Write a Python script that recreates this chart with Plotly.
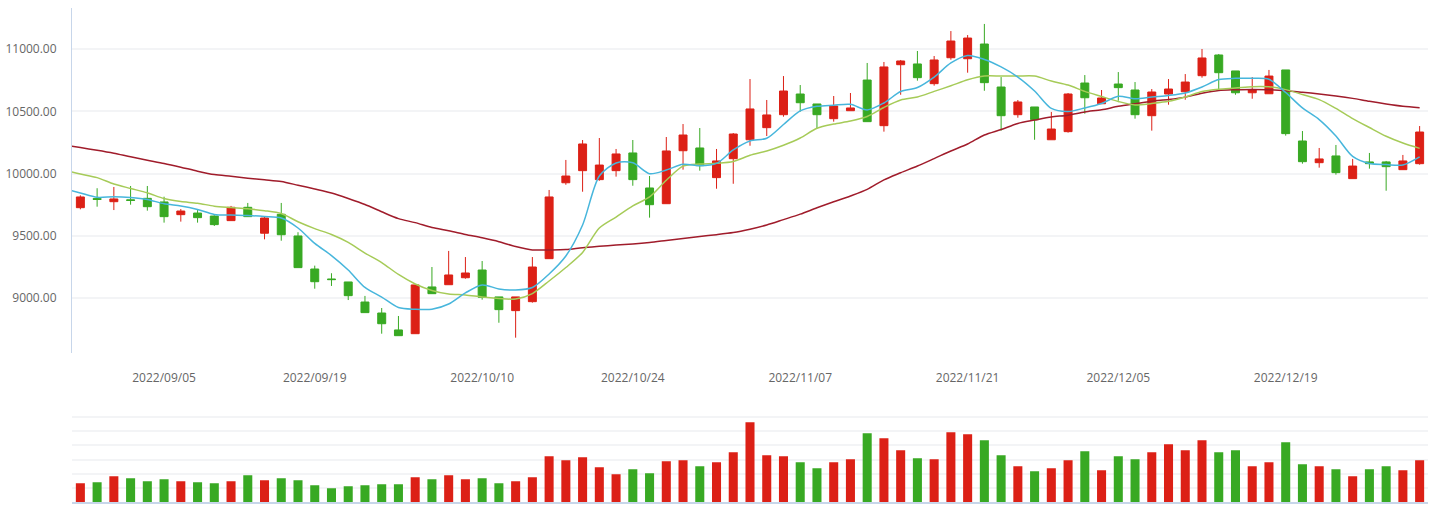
import plotly.graph_objects as go

# ---------------- data ----------------
prior_date = "2022/08/26"   # last day before the visible window (only used by the MA lines)
dates = [
    "2022/08/29", "2022/08/30", "2022/08/31", "2022/09/01", "2022/09/02",
    "2022/09/05", "2022/09/06", "2022/09/07", "2022/09/08", "2022/09/09",
    "2022/09/13", "2022/09/14", "2022/09/15", "2022/09/16", "2022/09/19",
    "2022/09/20", "2022/09/21", "2022/09/22", "2022/09/23", "2022/09/26",
    "2022/09/27", "2022/09/28", "2022/09/29", "2022/09/30", "2022/10/10",
    "2022/10/11", "2022/10/12", "2022/10/13", "2022/10/17", "2022/10/18",
    "2022/10/19", "2022/10/20", "2022/10/21", "2022/10/24", "2022/10/25",
    "2022/10/26", "2022/10/27", "2022/10/28", "2022/10/31", "2022/11/01",
    "2022/11/02", "2022/11/03", "2022/11/04", "2022/11/07", "2022/11/08",
    "2022/11/09", "2022/11/10", "2022/11/11", "2022/11/14", "2022/11/15",
    "2022/11/16", "2022/11/17", "2022/11/18", "2022/11/21", "2022/11/22",
    "2022/11/23", "2022/11/24", "2022/11/28", "2022/11/29", "2022/11/30",
    "2022/12/01", "2022/12/02", "2022/12/05", "2022/12/06", "2022/12/07",
    "2022/12/08", "2022/12/09", "2022/12/12", "2022/12/13", "2022/12/14",
    "2022/12/15", "2022/12/16", "2022/12/19", "2022/12/20", "2022/12/21",
    "2022/12/22", "2022/12/23", "2022/12/26", "2022/12/27", "2022/12/28",
    "2022/12/29",
]
tick_dates = ["2022/09/05", "2022/09/19", "2022/10/10", "2022/10/24",
              "2022/11/07", "2022/11/21", "2022/12/05", "2022/12/19"]

open_ = [9727, 9800, 9775, 9790, 9802, 9773, 9671, 9684, 9660, 9623,
         9730, 9522, 9674, 9500, 9235, 9155, 9131, 8970, 8882, 8746,
         8716, 9091, 9109, 9165, 9227, 9011, 8901, 8973, 9318, 9927,
         10024, 9952, 10024, 10166, 9885, 9759, 10184, 10206, 9968, 10120,
         10272, 10369, 10473, 10639, 10559, 10441, 10505, 10751, 10385, 10874,
         10880, 10722, 10930, 10922, 11040, 10695, 10473, 10535, 10272, 10337,
         10727, 10561, 10719, 10671, 10465, 10639, 10657, 10786, 10952, 10824,
         10649, 10641, 10832, 10262, 10088, 10142, 9960, 10094, 10094, 10032,
         10080]
high = [9826, 9883, 9893, 9901, 9901, 9815, 9716, 9708, 9666, 9741,
        9765, 9655, 9765, 9530, 9262, 9201, 9131, 9019, 8922, 8858,
        9107, 9251, 9380, 9331, 9299, 9011, 9011, 9331, 9869, 10110,
        10270, 10286, 10198, 10270, 9981, 10294, 10398, 10366, 10198, 10326,
        10759, 10591, 10783, 10711, 10559, 10623, 10647, 10888, 10896, 10912,
        10984, 10944, 11144, 11112, 11201, 10775, 10591, 10535, 10495, 10647,
        10791, 10671, 10815, 10735, 10679, 10759, 10799, 11000, 10960, 10824,
        10775, 10832, 10832, 10342, 10206, 10230, 10118, 10166, 10102, 10150,
        10382]
low = [9714, 9735, 9708, 9751, 9703, 9607, 9615, 9607, 9580, 9623,
       9655, 9473, 9462, 9246, 9077, 9099, 8986, 8885, 8716, 8700,
       8716, 9037, 9109, 9157, 8989, 8804, 8684, 8965, 9318, 9911,
       9855, 9943, 9976, 9903, 9647, 9759, 10032, 10024, 9879, 9919,
       10224, 10302, 10457, 10497, 10361, 10417, 10505, 10417, 10337, 10633,
       10746, 10706, 10914, 10810, 10665, 10345, 10449, 10272, 10272, 10329,
       10481, 10561, 10585, 10441, 10345, 10553, 10593, 10770, 10665, 10633,
       10601, 10641, 10305, 10080, 10048, 9992, 9960, 10040, 9863, 10032,
       10072]
close = [9813, 9793, 9797, 9785, 9735, 9655, 9700, 9647, 9591, 9730,
         9655, 9644, 9510, 9246, 9133, 9150, 9021, 8885, 8796, 8700,
         9107, 9037, 9187, 9203, 9008, 8909, 9011, 9251, 9813, 9981,
         10238, 10069, 10158, 9952, 9751, 10182, 10310, 10064, 10102, 10318,
         10519, 10471, 10663, 10569, 10473, 10543, 10527, 10417, 10856, 10904,
         10770, 10912, 11064, 11088, 10730, 10465, 10575, 10433, 10358, 10639,
         10609, 10607, 10690, 10473, 10655, 10679, 10735, 10928, 10810, 10649,
         10671, 10783, 10321, 10096, 10118, 10008, 10061, 10080, 10056, 10102,
         10334]
volume = [660, 696, 908, 837, 731, 802, 731, 696, 660, 731,
          943, 767, 837, 767, 590, 483, 554, 590, 625, 625,
          873, 802, 943, 802, 837, 660, 731, 873, 1616, 1474,
          1580, 1226, 979, 1156, 1014, 1439, 1474, 1262, 1403, 1757,
          2818, 1651, 1616, 1403, 1191, 1403, 1509, 2429, 2252, 1828,
          1545, 1509, 2465, 2394, 2182, 1651, 1262, 1085, 1191, 1474,
          1792, 1120, 1616, 1509, 1757, 2040, 1828, 2182, 1757, 1828,
          1262, 1403, 2111, 1333, 1262, 1156, 908, 1156, 1262, 1120,
          1474]
# moving averages, first value belongs to prior_date
ma5 = [9881, 9845, 9810, 9815, 9809, 9793, 9758, 9741, 9713, 9673, 9668,
       9664, 9656, 9644, 9564, 9440, 9343, 9227, 9087, 9010, 8926,
       8912, 8912, 8954, 9043, 9107, 9075, 9067, 9087, 9195, 9339,
       9588, 9981, 10086, 10087, 10000, 10029, 10075, 10063, 10082, 10190,
       10262, 10284, 10394, 10503, 10540, 10549, 10556, 10511, 10567, 10659,
       10691, 10775, 10888, 10948, 10916, 10856, 10775, 10663, 10523, 10499,
       10527, 10563, 10621, 10600, 10615, 10627, 10647, 10695, 10755, 10765,
       10765, 10757, 10651, 10527, 10434, 10302, 10138, 10082, 10073, 10069,
       10134]
ma10 = [10029, 9997, 9968, 9917, 9881, 9846, 9800, 9776, 9763, 9739, 9728,
        9718, 9703, 9680, 9614, 9559, 9512, 9449, 9363, 9287, 9191,
        9115, 9063, 9034, 9027, 9010, 8999, 8994, 9038, 9139, 9247,
        9368, 9564, 9652, 9741, 9813, 9947, 10060, 10077, 10083, 10098,
        10147, 10182, 10228, 10286, 10364, 10398, 10422, 10459, 10531, 10591,
        10615, 10660, 10705, 10753, 10783, 10783, 10783, 10783, 10743, 10711,
        10660, 10619, 10579, 10551, 10563, 10580, 10615, 10659, 10678, 10687,
        10698, 10697, 10674, 10635, 10594, 10523, 10442, 10370, 10300, 10246,
        10203]
ma_long = [10230, 10209, 10188, 10164, 10135, 10108, 10082, 10052, 10020, 9993, 9979,
           9964, 9951, 9937, 9907, 9877, 9845, 9801, 9753, 9694, 9639,
           9607, 9568, 9542, 9512, 9485, 9454, 9415, 9388, 9388, 9391,
           9406, 9417, 9427, 9436, 9448, 9464, 9480, 9496, 9510, 9527,
           9554, 9588, 9631, 9675, 9726, 9774, 9821, 9874, 9950, 10007,
           10061, 10121, 10182, 10238, 10310, 10354, 10403, 10430, 10455, 10469,
           10495, 10513, 10540, 10561, 10581, 10595, 10614, 10645, 10667, 10673,
           10676, 10673, 10666, 10653, 10639, 10623, 10604, 10580, 10559, 10541,
           10529]

# ---------------- styles ----------------
RED = "#dc2016"
GREEN = "#38a923"
LABEL = "#666666"
GRID = "#f3f4f6"
AXIS = "#c7d6ea"
FONT = "Open Sans"

all_dates = [prior_date] + dates
vol_colors = [RED if c >= o else GREEN for o, c in zip(open_, close)]

fig = go.Figure()
fig.add_trace(go.Candlestick(
    x=dates, open=open_, high=high, low=low, close=close,
    increasing=dict(line=dict(color=RED, width=1), fillcolor=RED),
    decreasing=dict(line=dict(color=GREEN, width=1), fillcolor=GREEN),
    whiskerwidth=0, xaxis="x", yaxis="y", showlegend=False, hoverinfo="skip",
))
for vals, col in [(ma_long, "#a01c2b"), (ma10, "#a6cb58"), (ma5, "#47b6dc")]:
    fig.add_trace(go.Scatter(
        x=all_dates, y=vals, mode="lines",
        line=dict(color=col, width=1.5, shape="spline", smoothing=0.8),
        xaxis="x", yaxis="y", showlegend=False, hoverinfo="skip",
    ))
fig.add_trace(go.Bar(
    x=dates, y=volume, marker=dict(color=vol_colors, line=dict(width=0)),
    xaxis="x2", yaxis="y2", showlegend=False, hoverinfo="skip",
))

fig.update_layout(
    width=1444, height=506,
    margin=dict(l=72, r=16, t=8, b=4),
    paper_bgcolor="white", plot_bgcolor="white",
    font=dict(family=FONT, size=12, color=LABEL),
    bargap=0.46, boxgap=0.32,
    xaxis=dict(
        type="category", categoryorder="array", categoryarray=all_dates,
        range=[0.5, len(all_dates) - 0.5],
        anchor="y", showgrid=False, showline=False, zeroline=False,
        tickmode="array", tickvals=tick_dates, ticktext=tick_dates,
        ticks="outside", ticklen=14, tickcolor="rgba(0,0,0,0)",
        tickfont=dict(family=FONT, size=12, color=LABEL),
        rangeslider=dict(visible=False),
    ),
    yaxis=dict(
        domain=[0.3016, 1.0], range=[8561, 11329],
        tickmode="linear", tick0=0, dtick=500, tickformat=".2f",
        showgrid=True, gridcolor=GRID, gridwidth=2, zeroline=False,
        showline=True, linecolor=AXIS, linewidth=1,
        ticks="outside", ticklen=12, tickcolor="rgba(0,0,0,0)",
        tickfont=dict(family=FONT, size=12, color=LABEL),
    ),
    xaxis2=dict(
        type="category", matches="x", anchor="y2",
        showticklabels=False, showgrid=False, zeroline=False,
        showline=True, linecolor=AXIS, linewidth=1.5, ticks="",
    ),
    yaxis2=dict(
        domain=[0.0, 0.201], range=[0, 3505],
        tickmode="linear", tick0=0, dtick=500,
        showticklabels=False, showgrid=True, gridcolor=GRID, gridwidth=2,
        zeroline=False, showline=False, ticks="",
    ),
)

fig.write_html("out.html")
